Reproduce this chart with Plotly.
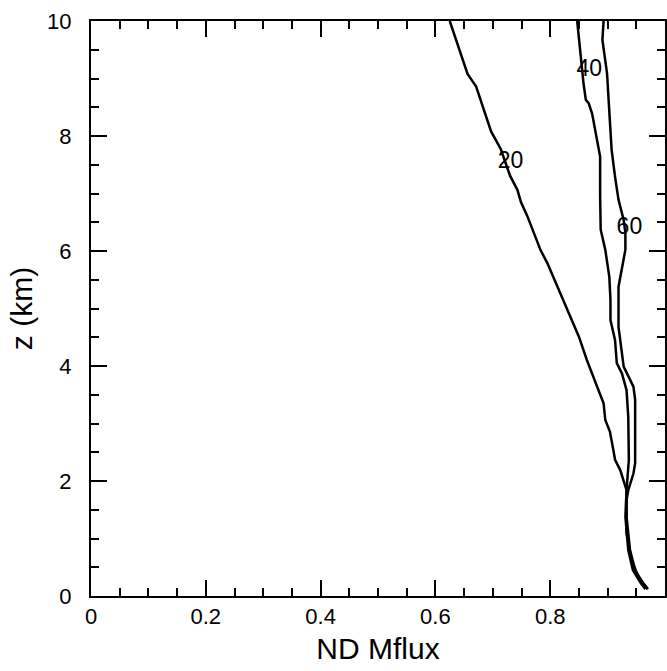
import plotly.graph_objects as go

# Curve "20"
x20 = [0.625, 0.656, 0.671, 0.697, 0.714, 0.730, 0.743, 0.749, 0.760, 0.783, 0.795, 0.818,
       0.835, 0.850, 0.864, 0.881, 0.893, 0.896, 0.904, 0.910, 0.913, 0.922, 0.930,
       0.933, 0.933, 0.939, 0.948, 0.962, 0.970]
z20 = [10.0, 9.08, 8.86, 8.08, 7.77, 7.31, 7.06, 6.85, 6.61, 6.02, 5.79, 5.26,
       4.86, 4.51, 4.10, 3.64, 3.35, 3.06, 2.86, 2.54, 2.37, 2.19, 1.96,
       1.84, 1.38, 0.80, 0.45, 0.22, 0.12]

# Curve "40"
x40 = [0.847, 0.850, 0.853, 0.858, 0.862, 0.867, 0.873, 0.881, 0.887, 0.887, 0.888,
       0.896, 0.903, 0.905, 0.905, 0.913, 0.916, 0.925, 0.933, 0.936, 0.936, 0.937,
       0.933, 0.931, 0.936, 0.944, 0.958, 0.966]
z40 = [10.0, 9.67, 9.44, 8.92, 8.63, 8.57, 8.39, 7.99, 7.64, 6.95, 6.37,
       6.02, 5.55, 5.15, 4.80, 4.45, 4.05, 3.87, 3.58, 3.12, 2.71, 2.37,
       1.84, 1.38, 0.80, 0.45, 0.22, 0.12]

# Curve "60"
x60 = [0.893, 0.891, 0.899, 0.902, 0.903, 0.907, 0.913, 0.919, 0.928, 0.931, 0.931,
       0.925, 0.919, 0.919, 0.919, 0.928, 0.945, 0.948, 0.948, 0.948, 0.945, 0.936,
       0.933, 0.933, 0.942, 0.953, 0.970]
z60 = [10.0, 9.67, 9.09, 8.63, 8.45, 7.76, 7.29, 6.89, 6.54, 6.31, 6.02,
       5.73, 5.38, 4.97, 4.68, 3.99, 3.64, 3.41, 2.71, 2.31, 2.13, 1.84,
       1.67, 1.09, 0.63, 0.34, 0.12]

labels = ["20", "40", "60"]
label_x = [0.731, 0.868, 0.938]
label_z = [7.54, 9.15, 6.40]

x_ticks = [0, 0.2, 0.4, 0.6, 0.8, 1]
x_ticktext = ["0", "0.2", "0.4", "0.6", "0.8", "1"]
y_ticks = [0, 2, 4, 6, 8, 10]

FONT = "Liberation Sans, Arial, sans-serif"

fig = go.Figure()
for xs, zs in [(x20, z20), (x40, z40), (x60, z60)]:
    fig.add_trace(go.Scatter(x=xs, y=zs, mode="lines",
                             line=dict(color="black", width=2.5),
                             showlegend=False, hoverinfo="skip"))

fig.add_trace(go.Scatter(x=label_x, y=label_z, mode="text", text=labels,
                         textfont=dict(family=FONT, size=23, color="black"),
                         showlegend=False, hoverinfo="skip", cliponaxis=False))

axis_common = dict(showline=True, linecolor="black", linewidth=2, mirror="ticks",
                   ticks="inside", ticklen=16, tickwidth=2, tickcolor="black",
                   showgrid=False, zeroline=False,
                   tickfont=dict(family=FONT, size=22, color="black"))

fig.update_xaxes(range=[0, 1], tickvals=x_ticks, ticktext=x_ticktext,
                 ticklabelstandoff=0,
                 minor=dict(ticks="inside", ticklen=8, tickwidth=2, dtick=0.05,
                            tick0=0, tickcolor="black", showgrid=False),
                 title=dict(text="ND Mflux", font=dict(family=FONT, size=30, color="black"),
                            standoff=10),
                 **axis_common)
fig.update_yaxes(range=[0, 10], tickvals=y_ticks,
                 ticklabelstandoff=13,
                 minor=dict(ticks="inside", ticklen=8, tickwidth=2, dtick=0.5,
                            tick0=0, tickcolor="black", showgrid=False),
                 title=dict(text="z (km)", font=dict(family=FONT, size=30, color="black"),
                            standoff=6),
                 **axis_common)

fig.update_layout(width=667, height=671,
                  margin=dict(l=91, r=0, t=21, b=75),
                  paper_bgcolor="white", plot_bgcolor="white",
                  font=dict(family=FONT, color="black"))

fig.write_html("out.html")
